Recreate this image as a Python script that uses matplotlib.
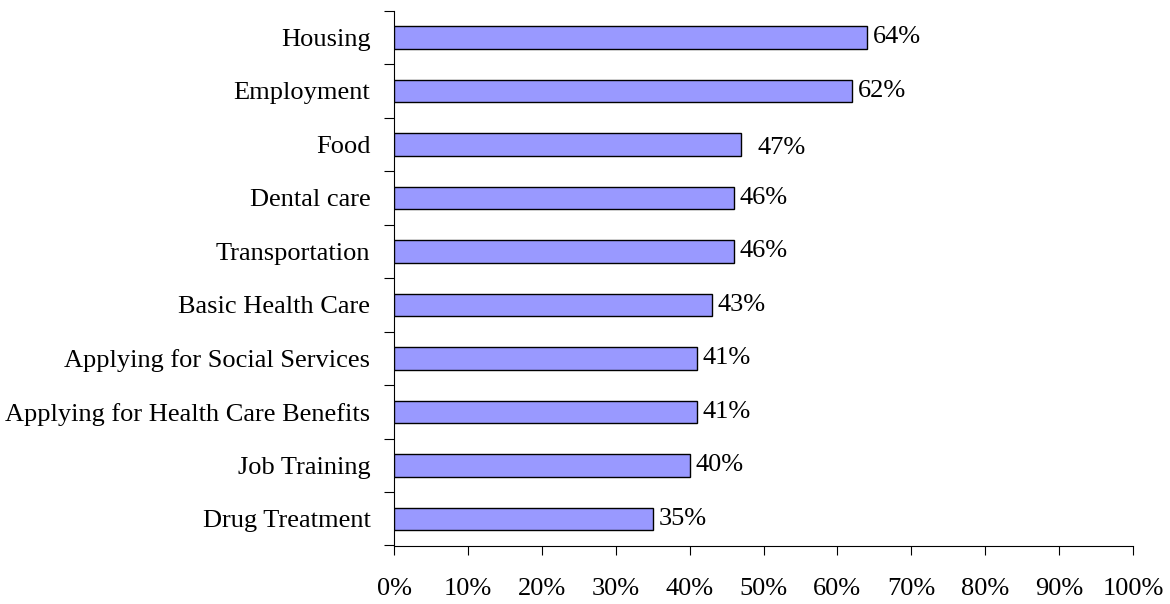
import matplotlib
matplotlib.use("Agg")
import matplotlib.pyplot as plt
from matplotlib.ticker import FixedLocator, PercentFormatter

categories = ["Housing", "Employment", "Food", "Dental care", "Transportation",
              "Basic Health Care", "Applying for Social Services",
              "Applying for Health Care Benefits", "Job Training", "Drug Treatment"]
values = [64, 62, 47, 46, 46, 43, 41, 41, 40, 35]
value_labels = ["64%", "62%", "47%", "46%", "46%", "43%", "41%", "41%", "40%", "35%"]
x_ticks = [0, 10, 20, 30, 40, 50, 60, 70, 80, 90, 100]

plt.rcParams['font.family'] = ['Liberation Serif', 'DejaVu Serif']
FS = 19

fig = plt.figure(figsize=(11.70, 6.04), dpi=100)
ax = fig.add_axes([394/1170, 1 - 545.5/604, (1133 - 394)/1170, (545.5 - 10.7)/604])

n = len(categories)
ypos = list(range(n))
ax.barh(ypos, values, height=0.42, color="#9999FF", edgecolor="black", linewidth=1.0, zorder=3)

ax.set_xlim(0, 100)
ax.set_ylim(n - 0.5, -0.5)

# value labels
for i, (v, lab) in enumerate(zip(values, value_labels)):
    if lab == "47%":
        off, dy = 16, -4
    else:
        off, dy = 6, 0
    ax.annotate(lab, xy=(v, i), xytext=(off * 0.72, dy * 0.72), textcoords="offset points",
                ha="left", va="center", fontsize=FS, color="black")

# y axis: labels at centres, tick marks at boundaries
ax.set_yticks(ypos)
ax.set_yticklabels(categories, fontsize=FS)
ax.tick_params(axis="y", which="major", length=0, pad=17)
ax.yaxis.set_minor_locator(FixedLocator([i - 0.5 for i in range(n + 1)]))
ax.tick_params(axis="y", which="minor", length=7, width=0.8, direction="out", color="black")

ax.set_xticks(x_ticks)
ax.xaxis.set_major_formatter(PercentFormatter(decimals=0))
ax.tick_params(axis="x", which="major", length=6.5, width=0.8, direction="out",
               pad=17, labelsize=FS, color="black")

for s in ["top", "right"]:
    ax.spines[s].set_visible(False)
for s in ["left", "bottom"]:
    ax.spines[s].set_linewidth(0.8)
    ax.spines[s].set_color("black")

fig.savefig("out.png", dpi=100)
